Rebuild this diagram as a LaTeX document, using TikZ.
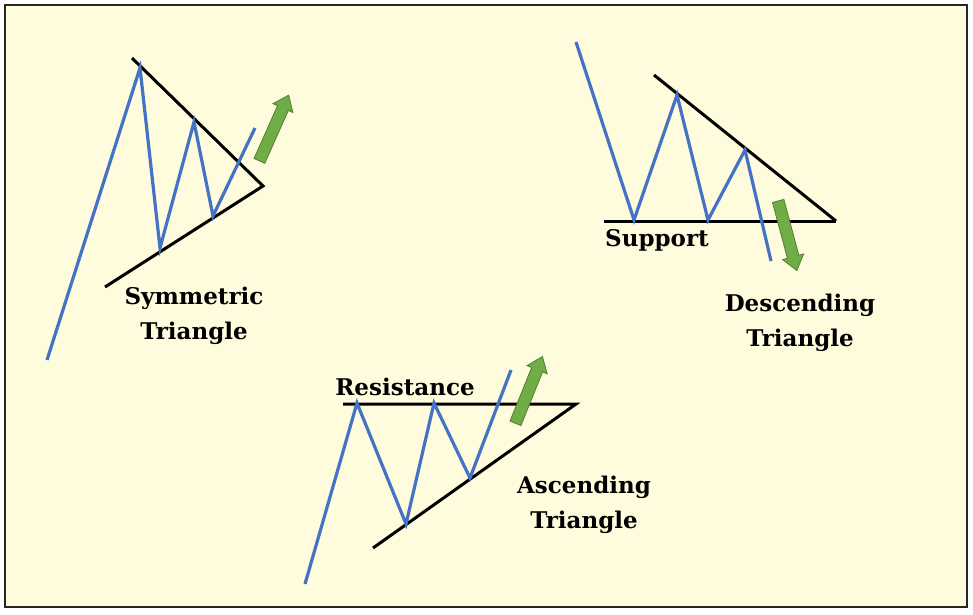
\documentclass[tikz,border=0pt]{standalone}
\usepackage{fontspec}
\setmainfont{DejaVu Serif}
\usetikzlibrary{shapes.arrows}
\definecolor{cream}{RGB}{255,252,222}
\definecolor{chartblue}{RGB}{68,114,196}
\definecolor{arrowgreen}{RGB}{112,173,71}
\definecolor{arrowedge}{RGB}{80,126,50}
\begin{document}
\begin{tikzpicture}[x=1pt,y=-1pt,
blueline/.style={draw=chartblue, line width=3.2pt, line join=miter},
blackline/.style={draw=black, line width=3pt},
greenarrow/.style={single arrow, draw=arrowedge, fill=arrowgreen, line width=0.8pt,
    minimum height=72pt, inner sep=5.5pt, single arrow head extend=5pt,
    single arrow tip angle=75, anchor=center},
label/.style={font=\bfseries\fontsize{23}{35}\selectfont, align=center, inner sep=0pt}]
\useasboundingbox (0,0) rectangle (973,614);
\draw[fill=cream, line width=2.5pt, draw=black!85] (5,5) rectangle (967,607);
% symmetric triangle
\draw[blackline] (132,58) -- (263,186) -- (105,287);
\draw[blueline] (47,360) -- (140,68) -- (160,248) -- (194,122) -- (213,216) -- (255,128);
\node[greenarrow, rotate=66] (symarrow) at (272.5,131.5) {};
\node[label] (symtext) at (194,316) {Symmetric\\Triangle};
% descending triangle
\draw[blackline] (654,75) -- (836,221);
\draw[blackline] (604,221) -- (836,221);
\draw[blueline] (576,42) -- (634,220) -- (677,95) -- (708,220) -- (745,150) -- (771,261);
\node[greenarrow, rotate=-75] (descarrow) at (786.5,232) {};
\node[label, anchor=west] (support) at (605,240) {Support};
\node[label] (desctext) at (800,323) {Descending\\Triangle};
% ascending triangle
\draw[blackline] (343,404) -- (576,404) -- (373,548);
\draw[blueline] (305,584) -- (357,403) -- (406,524) -- (434,403) -- (470,478) -- (511,370);
\node[greenarrow, rotate=68] (ascarrow) at (527.5,393.5) {};
\node[label] (resist) at (405,387) {Resistance};
\node[label] (asctext) at (584,505) {Ascending\\Triangle};
\end{tikzpicture}
\end{document}
